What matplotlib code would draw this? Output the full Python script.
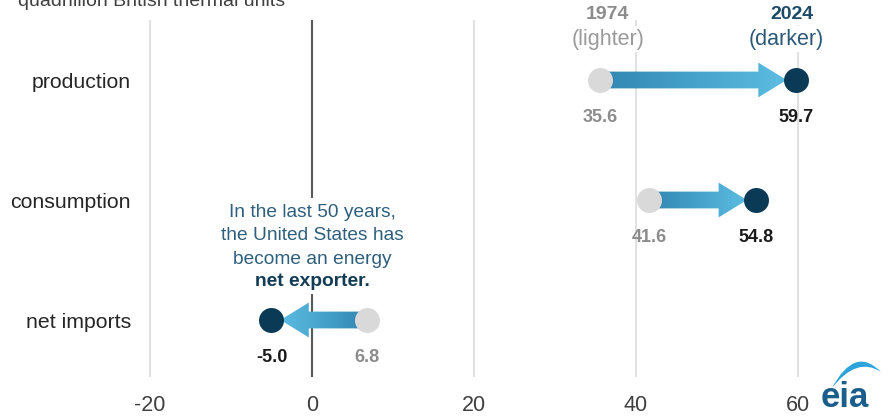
import numpy as np
import matplotlib.pyplot as plt
from matplotlib.patches import FancyArrow, PathPatch
from matplotlib.path import Path
from matplotlib.colors import LinearSegmentedColormap

plt.rcParams['font.family'] = ['Liberation Sans', 'DejaVu Sans']

# data (quadrillion Btu)
categories = ['production', 'consumption', 'net imports']
values_1974 = [35.6, 41.6, 6.8]
values_2024 = [59.7, 54.8, -5.0]
xticks = [-20, 0, 20, 40, 60]

light_dot = '#d9d9d9'
dark_dot = '#0b3a57'
arrow_cmap = LinearSegmentedColormap.from_list('arr', ['#2f86b2', '#5dbde2'])

fig = plt.figure(figsize=(8.92, 4.17), dpi=100)
ax = fig.add_axes([138 / 892, 40 / 417, 754 / 892, 357 / 417])

rows = [2, 1, 0]
xlim = (-21.48, 71.6)
ylim = (-0.475, 2.5)

# gridlines
for t in xticks:
    if t == 0:
        ax.axvline(0, color='#595959', lw=1.5, zorder=1)
    else:
        ax.axvline(t, color='#dcdcdc', lw=1.2, zorder=1)

for y, v0, v1 in zip(rows, values_1974, values_2024):
    sign = 1 if v1 > v0 else -1
    end = v1 - sign * 1.1
    arr = FancyArrow(v0, y, end - v0, 0, width=0.14, head_width=0.29,
                     head_length=3.5, length_includes_head=True,
                     facecolor='none', edgecolor='none', zorder=2)
    ax.add_patch(arr)
    grad = np.linspace(0, 1, 256).reshape(1, -1)
    if sign < 0:
        grad = grad[:, ::-1]
    im = ax.imshow(grad, cmap=arrow_cmap, aspect='auto', zorder=2,
                   extent=[min(v0, end), max(v0, end), y - 0.16, y + 0.16])
    im.set_clip_path(arr)

    ax.plot(v0, y, 'o', ms=18, color=light_dot, mec='none', zorder=3)
    ax.plot(v1, y, 'o', ms=18, color=dark_dot, mec='none', zorder=3)
    ax.text(v0, y - 0.31, f'{v0:.1f}', ha='center', va='center', fontsize=13,
            fontweight='bold', color='#8c8c8c')
    ax.text(v1, y - 0.31, f'{v1:.1f}', ha='center', va='center', fontsize=13,
            fontweight='bold', color='#1a1a1a')

# header labels for years
box = dict(facecolor='white', edgecolor='none', pad=2)
ax.text(36.5, 2.55, '1974', ha='center', va='center', fontsize=14,
        fontweight='bold', color='#8c8c8c', bbox=box, zorder=4)
ax.text(36.5, 2.34, '(lighter)', ha='center', va='center', fontsize=15.5,
        color='#9a9a9a', bbox=box, zorder=4)
ax.text(59.3, 2.55, '2024', ha='center', va='center', fontsize=14,
        fontweight='bold', color='#1d4a66', bbox=box, zorder=4)
ax.text(58.6, 2.34, '(darker)', ha='center', va='center', fontsize=15.5,
        color='#2b5a78', bbox=box, zorder=4)

# annotation
ax.text(0, 0.7, 'In the last 50 years,\nthe United States has\nbecome an energy',
        ha='center', va='center', fontsize=13.8, color='#2e5f7c',
        linespacing=1.5, bbox=dict(facecolor='white', edgecolor='none', pad=4),
        zorder=4)
ax.text(0, 0.32, 'net exporter.', ha='center', va='center', fontsize=13.8,
        fontweight='bold', color='#123b55',
        bbox=dict(facecolor='white', edgecolor='none', pad=3), zorder=4)

ax.set_xlim(*xlim)
ax.set_ylim(*ylim)
ax.set_xticks(xticks)
ax.set_xticklabels([str(t) for t in xticks], fontsize=15.5, color='#404040')
ax.set_yticks(rows)
ax.set_yticklabels(categories, fontsize=15.3, color='#262626')
ax.tick_params(axis='x', length=0, pad=13)
ax.tick_params(axis='y', length=0, pad=5)
for s in ax.spines.values():
    s.set_visible(False)

# unit label cut at top
fig.text(18 / 892, 1 - 6.5 / 417, 'quadrillion British thermal units',
         ha='left', va='baseline', fontsize=14, color='#404040')

# eia logo
fig.text(845 / 892, 10 / 417, 'eia', ha='center', va='baseline', fontsize=25,
         fontweight='bold', color='#1b5e8c')
W, H = 892.0, 417.0
pts = [(832, 388), (855, 345), (881, 372), (881, 372), (857, 356), (832, 388)]
verts = [(x / W, 1 - y / H) for x, y in pts]
codes = [Path.MOVETO, Path.CURVE3, Path.CURVE3, Path.LINETO, Path.CURVE3, Path.CURVE3]
fig.patches.append(PathPatch(Path(verts, codes), facecolor='#2ea3da',
                             edgecolor='none', transform=fig.transFigure))

fig.savefig('out.png', dpi=100)
